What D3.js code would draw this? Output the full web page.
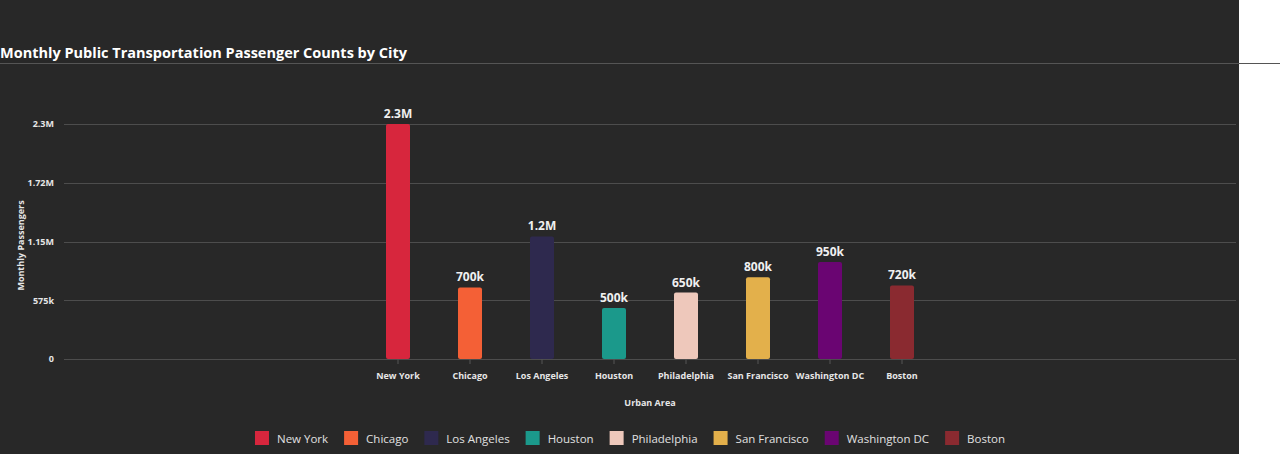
<!DOCTYPE html>
<html>
<head>
<meta charset="utf-8">
<script src="https://cdn.jsdelivr.net/npm/d3@7"></script>
<style>
  html, body { margin: 0; padding: 0; background: #ffffff; }
  svg { display: block; font-family: "Open Sans", "Noto Sans", sans-serif; }
</style>
</head>
<body>
<div id="chart"></div>
<script>
// Data
const cities = ['New York', 'Chicago', 'Los Angeles', 'Houston', 'Philadelphia', 'San Francisco', 'Washington DC', 'Boston'];
const passengers = [2300000, 700000, 1200000, 500000, 650000, 800000, 950000, 720000];
const valueLabels = ['2.3M', '700k', '1.2M', '500k', '650k', '800k', '950k', '720k'];
const colors = ['#d7263d', '#f46036', '#2e294e', '#1b998b', '#eec8bb', '#e3b04b', '#6a0572', '#8a2a30'];
const yTicks = [0, 575000, 1150000, 1725000, 2300000];
const yTickLabels = ['0', '575k', '1.15M', '1.72M', '2.3M'];

const W = 1280, H = 454;
const panelW = 1239;

const svg = d3.select('#chart').append('svg')
  .attr('width', W)
  .attr('height', H);

// dark panel
svg.append('rect')
  .attr('x', 0).attr('y', 0)
  .attr('width', panelW).attr('height', H)
  .attr('fill', '#282828');

// title + rule
svg.append('text')
  .attr('x', 0).attr('y', 58)
  .attr('fill', '#ffffff')
  .style('font-size', '14.5px')
  .style('font-weight', 'bold')
  .text('Monthly Public Transportation Passenger Counts by City');

svg.append('line')
  .attr('x1', 0).attr('x2', W)
  .attr('y1', 63.5).attr('y2', 63.5)
  .attr('stroke', '#555')
  .attr('stroke-width', 1);

// scales
const plotLeft = 64, plotRight = 1236;
const y = d3.scaleLinear().domain([0, 2300000]).range([359, 124]);
const x = d3.scaleBand()
  .domain(cities)
  .range([362, 938])
  .paddingInner(2 / 3)
  .paddingOuter(1 / 3);

// grid lines
svg.append('g')
  .selectAll('line')
  .data(yTicks)
  .join('line')
  .attr('x1', plotLeft).attr('x2', plotRight)
  .attr('y1', d => Math.round(y(d)) + 0.5)
  .attr('y2', d => Math.round(y(d)) + 0.5)
  .attr('stroke', '#4d4d4d')
  .attr('stroke-width', 1);

// y axis labels
const yAxis = svg.append('g')
  .attr('transform', `translate(${plotLeft - 10},0)`)
  .call(d3.axisLeft(y).tickValues(yTicks).tickSize(0).tickFormat((d, i) => yTickLabels[i]));
yAxis.select('.domain').remove();
yAxis.selectAll('text')
  .attr('fill', '#e6e6e6')
  .attr('x', 0)
  .style('font-size', '9px')
  .style('font-weight', 'bold')
  .style('font-family', '"Open Sans", "Noto Sans", sans-serif');

svg.append('text')
  .attr('transform', `translate(24,${(124 + 359) / 2 + 4}) rotate(-90)`)
  .attr('text-anchor', 'middle')
  .attr('fill', '#e6e6e6')
  .style('font-size', '9px')
  .style('font-weight', 'bold')
  .text('Monthly Passengers');

// x axis
const xAxis = svg.append('g')
  .attr('transform', 'translate(0,359)')
  .call(d3.axisBottom(x).tickSize(5).tickPadding(9));
xAxis.select('.domain').remove();
xAxis.selectAll('.tick line').attr('stroke', '#555');
xAxis.selectAll('text')
  .attr('fill', '#e6e6e6')
  .style('font-size', '9px')
  .style('font-weight', 'bold')
  .style('font-family', '"Open Sans", "Noto Sans", sans-serif');

svg.append('text')
  .attr('x', (plotLeft + plotRight) / 2)
  .attr('y', 406)
  .attr('text-anchor', 'middle')
  .attr('fill', '#e6e6e6')
  .style('font-size', '9px')
  .style('font-weight', 'bold')
  .text('Urban Area');

// bars
svg.append('g')
  .selectAll('rect')
  .data(cities)
  .join('rect')
  .attr('x', d => x(d))
  .attr('y', (d, i) => y(passengers[i]))
  .attr('width', x.bandwidth())
  .attr('height', (d, i) => y(0) - y(passengers[i]))
  .attr('rx', 2)
  .attr('fill', (d, i) => colors[i]);

// value labels
svg.append('g')
  .selectAll('text')
  .data(cities)
  .join('text')
  .attr('x', d => x(d) + x.bandwidth() / 2)
  .attr('y', (d, i) => y(passengers[i]) - 6)
  .attr('text-anchor', 'middle')
  .attr('fill', '#f0f0f0')
  .style('font-size', '12px')
  .style('font-weight', 'bold')
  .text((d, i) => valueLabels[i]);

// legend
const legend = svg.append('g').attr('transform', 'translate(0,438)');
const items = legend.selectAll('g')
  .data(cities)
  .join('g');
items.append('rect')
  .attr('x', 0).attr('y', -7)
  .attr('width', 14).attr('height', 14)
  .attr('fill', (d, i) => colors[i]);
items.append('text')
  .attr('x', 22).attr('y', 4.5)
  .attr('fill', '#e0e0e0')
  .style('font-size', '11.5px')
  .text(d => d);

let lx = 0;
const widths = [];
items.each(function () {
  const w = 22 + this.querySelector('text').getComputedTextLength();
  widths.push(w);
});
const gap = 16;
const total = d3.sum(widths) + gap * (widths.length - 1);
lx = 630 - total / 2;
items.attr('transform', (d, i) => {
  const t = `translate(${lx},0)`;
  lx += widths[i] + gap;
  return t;
});
</script>
</body>
</html>
